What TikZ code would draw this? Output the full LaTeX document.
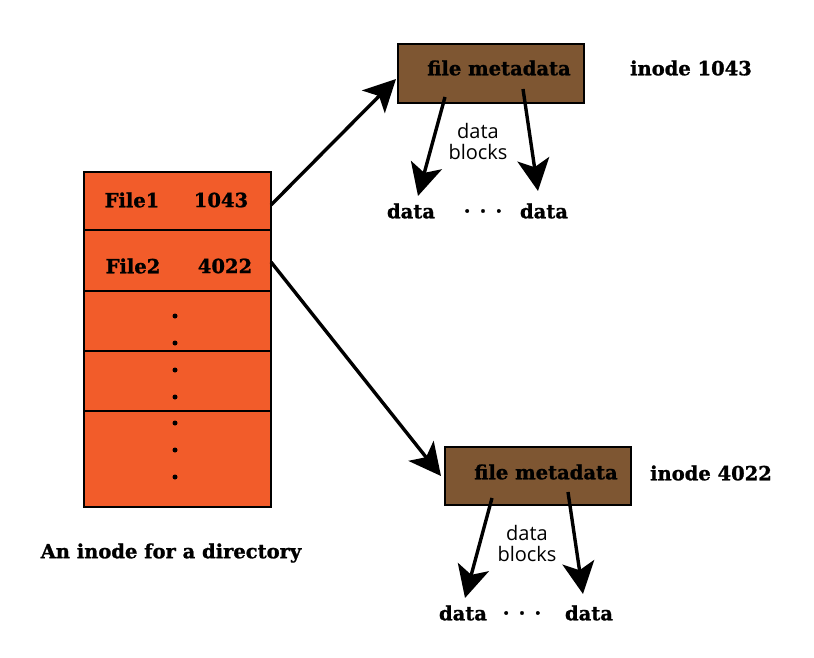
\documentclass[tikz,border=0pt]{standalone}
\usepackage{fontspec}
\setmainfont{DejaVu Serif}
\newfontfamily\heavy[BoldFeatures={FakeBold=1.2}]{DejaVu Serif}
\newfontfamily\lblfont{Open Sans}
\usetikzlibrary{arrows.meta}
\definecolor{dirorange}{RGB}{242,92,42}
\definecolor{metabrown}{RGB}{126,86,50}
\tikzset{
  bold/.style={font=\heavy\fontsize{19.5}{22}\selectfont\bfseries, inner sep=0pt},
  lbl/.style={font=\lblfont\fontsize{20}{26}\selectfont, inner sep=0pt, align=center},
  metabox/.style={draw=black, line width=1.4pt, fill=metabrown},
  arr/.style={line width=3.4pt, -{Stealth[width=32pt,length=32pt,inset=8pt]}},
  dotc/.style={circle, fill=black, inner sep=0pt, minimum size=5pt},
}
\begin{document}
\begin{tikzpicture}[x=1pt,y=-1pt]
\useasboundingbox (0,0) rectangle (814,658);
% directory inode
\fill[dirorange] (84,172) rectangle (271,507);
\draw[line width=1.4pt] (84,172) rectangle (271,507);
\foreach \yy in {230,291,351,411} \draw[line width=1.4pt] (84,\yy) -- (271,\yy);
\node[bold] (f1) at (132,200) {File1};
\node[bold] (n1) at (221,200) {1043};
\node[bold] (f2) at (133,266) {File2};
\node[bold] (n2) at (225,266) {4022};
\foreach \yy [count=\i] in {316,343,370,397,423,450,477} \node[dotc] (d\i) at (175,\yy) {};
\node[bold] (cap) at (171,553) {An inode for a directory};
\coordinate (r1) at (271,205);
\coordinate (r2) at (271,262);
% top inode
\node[metabox, minimum width=186pt, minimum height=59pt] (m1) at (491,73.5) {};
\node[bold] (t1) at (499,68) {file metadata};
\node[bold] (i1) at (691,68) {inode 1043};
\coordinate (m1in) at (396,79);
\coordinate (a1s) at (445,97);
\coordinate (a1e) at (418,196);
\coordinate (a2s) at (523,89);
\coordinate (a2e) at (538,191);
\node[lbl] (b1) at (478,142) {data\\[-5pt]blocks};
\node[bold] (dl1) at (411,211) {data};
\node[bold] (dd1) at (483,211) {. . .};
\node[bold] (dr1) at (544,211) {data};
% bottom inode
\node[metabox, minimum width=186pt, minimum height=58pt] (m2) at (538,476) {};
\node[bold] (t2) at (546,472) {file metadata};
\node[bold] (i2) at (711,473) {inode 4022};
\coordinate (m2in) at (441,476);
\coordinate (b1s) at (492,498);
\coordinate (b1e) at (465,598);
\coordinate (b2s) at (568,492);
\coordinate (b2e) at (583,594);
\node[lbl] (b2) at (527,543) {data\\[-5pt]blocks};
\node[bold] (dl2) at (463,613) {data};
\node[bold] (dd2) at (522,613) {. . .};
\node[bold] (dr2) at (589,613) {data};
% arrows
\draw[arr] (r1) -- (m1in);
\draw[arr] (r2) -- (m2in);
\draw[arr] (a1s) -- (a1e);
\draw[arr] (a2s) -- (a2e);
\draw[arr] (b1s) -- (b1e);
\draw[arr] (b2s) -- (b2e);
\end{tikzpicture}
\end{document}
